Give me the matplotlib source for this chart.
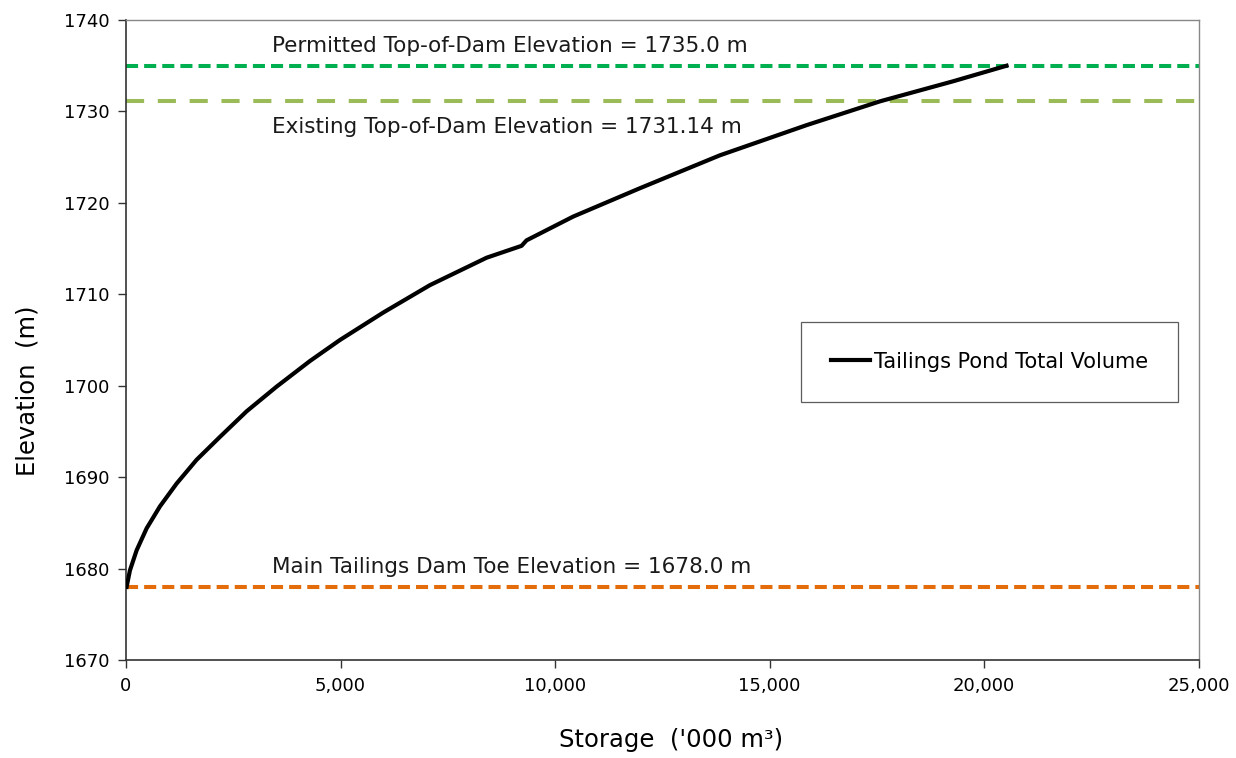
import matplotlib
matplotlib.use("Agg")
from matplotlib import pyplot as plt
from matplotlib.ticker import FuncFormatter

plt.rcParams["font.family"] = ["DejaVu Sans"]

# storage ('000 m3) vs elevation (m)
storage = [15, 93, 249, 482, 792, 1181, 1647, 2190, 2812, 3511, 4287, 4986,
           5995, 7083, 8404, 9219, 9335, 10422, 11976, 13840, 15860, 17568,
           19277, 20520]
elevation = [1678.0, 1679.8, 1682.0, 1684.4, 1686.8, 1689.3, 1691.9, 1694.4,
             1697.2, 1699.9, 1702.7, 1705.0, 1708.0, 1711.0, 1714.0, 1715.3,
             1715.9, 1718.5, 1721.6, 1725.2, 1728.5, 1731.1, 1733.3, 1735.0]

permitted_el = 1735.0
existing_el = 1731.14
toe_el = 1678.0

x_ticks = [0, 5000, 10000, 15000, 20000, 25000]
y_ticks = [1670, 1680, 1690, 1700, 1710, 1720, 1730, 1740]

fig = plt.figure(figsize=(12.36, 7.58), dpi=100)
ax = fig.add_axes([0.1019, 0.1293, 0.868, 0.8443])

ax.axhline(permitted_el, color="#00B050", lw=2.9, dashes=(3.0, 1.5), zorder=2)
ax.axhline(existing_el, color="#9BBB59", lw=2.9, dashes=(4.5, 3.4), zorder=2)
ax.axhline(toe_el, color="#E46C0A", lw=2.9, dashes=(3.0, 1.5), zorder=2)
ax.plot(storage, elevation, color="black", lw=3.0, zorder=3,
        label="Tailings Pond Total Volume", solid_joinstyle="round")

txt_kw = dict(fontsize=15.5, va="baseline", ha="left", color="#1a1a1a")
ax.text(3400, 1736.5, f"Permitted Top-of-Dam Elevation = {permitted_el:.1f} m", **txt_kw)
ax.text(3400, 1727.6, f"Existing Top-of-Dam Elevation = {existing_el:.2f} m", **txt_kw)
ax.text(3400, 1679.5, f"Main Tailings Dam Toe Elevation = {toe_el:.1f} m", **txt_kw)

ax.set_xlim(0, 25000)
ax.set_ylim(1670, 1740)
ax.set_xticks(x_ticks)
ax.set_yticks(y_ticks)
ax.xaxis.set_major_formatter(FuncFormatter(lambda v, p: f"{int(v):,}"))
ax.tick_params(direction="out", length=6, width=1, labelsize=13, pad=6,
               colors="#333333", labelcolor="black")

for s in ["left", "bottom"]:
    ax.spines[s].set_color("#333333")
    ax.spines[s].set_linewidth(1.2)
for s in ["top", "right"]:
    ax.spines[s].set_color("#888888")
    ax.spines[s].set_linewidth(1.0)

ax.set_xlabel("Storage  ('000 m³)", fontsize=17.5)
ax.set_ylabel("Elevation  (m)", fontsize=17.5)
ax.xaxis.set_label_coords(0.508, -0.107)
ax.yaxis.set_label_coords(-0.081, 0.42)

leg = ax.legend(loc="center", bbox_to_anchor=(0.805, 0.466), fontsize=15,
                frameon=True, fancybox=False, borderpad=1.45,
                handlelength=1.85, handletextpad=0.2, borderaxespad=0)
leg.get_frame().set_edgecolor("#333333")
leg.get_frame().set_linewidth(0.9)

fig.savefig("out.png", dpi=100)
